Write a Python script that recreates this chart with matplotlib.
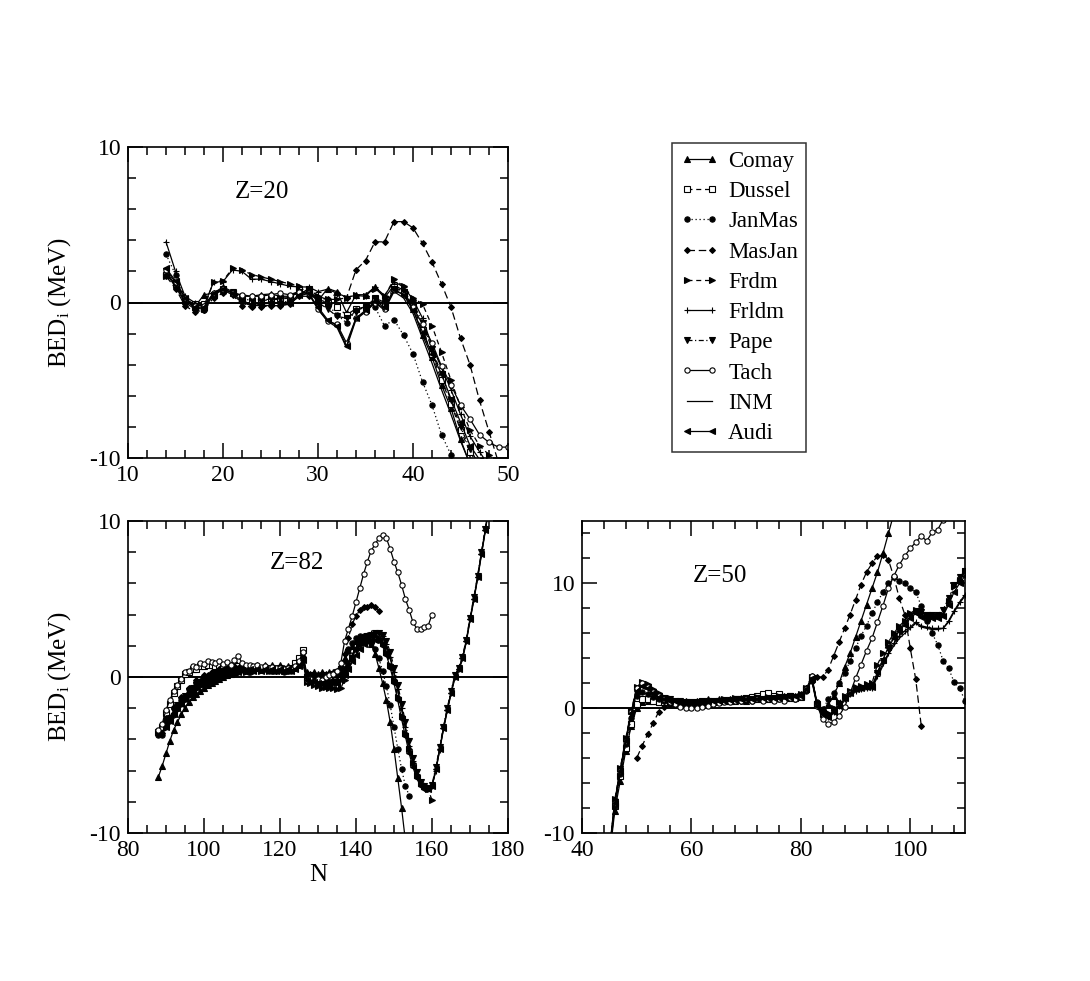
import numpy as np
import matplotlib
matplotlib.use("Agg")
import matplotlib.pyplot as plt
from matplotlib.ticker import MultipleLocator

nan = np.nan

LABELS = ["Comay", "Dussel", "JanMas", "MasJan", "Frdm", "Frldm", "Pape", "Tach", "INM", "Audi"]

# ---------------- Z = 20 (N = 14 ... 50) ----------------
N20 = np.arange(14, 51)
COMAY_20 = [2.0, 1.1, 0.1, -0.3, 0.5, 0.6, 1.0, 0.7, 0.4, 0.4, 0.5, 0.55, 0.4, 0.4, 0.6, 0.8, 0.1, 0.9, 0.7, -0.65,
            0.5, 0.5, 1.0, 0.3, 1.1, 0.8, -0.4, -2.1, -3.5, -5.3, -6.8, -8.8, -10.4]
DUSSEL_20 = [1.8, 1.2, 0.2, -0.1, -0.1, 0.5, 0.9, 0.6, 0.3, 0.1, 0.2, 0.2, 0.3, 0.3, 0.8, 0.9, 0.2, 0.0, -0.3, -0.8,
             -0.4, -0.3, 0.3, 0.0, 1.0, 0.7, -0.2, -1.8, -3.3, -5.0, -6.5, -8.2, -9.6, -10.6]
JANMAS_20 = [3.1, 1.8, 0.3, -0.3, -0.5, 0.5, 0.9, 0.7, 0.2, -0.2, -0.1, 0.0, 0.0, 0.1, 0.5, 0.7, 0.3, -0.1, -0.8, -1.3,
             -0.5, -0.3, -0.3, -1.5, -1.1, -2.1, -3.3, -5.1, -6.6, -8.5, -9.8, -11.0]
MASJAN_20 = [1.7, 0.9, -0.2, -0.6, -0.5, 0.3, 0.6, 0.5, -0.2, -0.3, -0.3, -0.2, -0.2, -0.1, 0.4, 0.4, 0.3, 0.2, 0.6, 0.3,
             2.1, 2.7, 3.9, 3.9, 5.2, 5.2, 4.8, 3.8, 2.6, 1.2, -0.3, -2.3, -4.0, -6.3, -8.3, -10.3]
FRDM_20 = [1.7, 1.3, 0.2, -0.3, -0.4, 1.35, 1.4, 2.2, 2.1, 1.8, 1.65, 1.5, 1.35, 1.2, 1.05, 0.9, 0.4, 0.2, 0.2, 0.3,
           0.5, 0.4, 0.9, 0.4, 1.5, 1.05, 0.3, -0.1, -1.5, -3.2, -5.0, -6.7, -8.2, -9.2, -9.8, -10.5]
FRLDM_20 = [3.9, 2.0, 0.4, 0.0, -0.2, 1.3, 1.35, 2.1, 2.0, 1.5, 1.5, 1.35, 1.2, 1.05, 1.0, 1.0, 0.7, 0.85, 0.6, 0.35,
            0.45, 0.4, 1.0, 0.45, 1.35, 1.0, 0.2, -1.0, -2.8, -4.2, -5.6, -7.2, -8.6, -9.6, -10.5]
PAPE_20 = [2.0, 1.2, 0.1, -0.3, -0.3, 0.5, 0.8, 0.7, 0.3, 0.1, 0.1, 0.2, 0.2, 0.3, 0.7, 0.8, 0.0, -0.4, -0.9, -1.0,
           -0.6, -0.2, 0.2, -0.1, 0.9, 0.7, 0.0, -1.3, -3.0, -4.6, -6.3, -8.0, -9.4, -10.5]
TACH_20 = [2.1, 1.3, 0.3, -0.2, -0.2, 0.6, 0.9, 0.6, 0.5, 0.4, 0.4, 0.5, 0.6, 0.5, 0.7, 0.6, -0.45, -1.2, -1.4, -2.6,
           -1.0, -0.6, 0.0, -0.4, 0.8, 0.5, -0.3, -1.4, -2.6, -4.1, -5.3, -6.6, -7.5, -8.5, -9.0, -9.3, -9.3]
INM_20 = [1.9, 1.0, 0.0, -0.4, -0.4, 0.5, 0.8, 0.5, 0.0, -0.2, -0.2, -0.2, -0.2, -0.1, 0.4, 0.6, -0.4, -1.2, -1.6, -2.9,
          -1.1, -0.6, 0.0, -0.5, 0.7, 0.3, -0.7, -2.3, -3.9, -5.6, -7.2, -8.9, -10.4]
AUDI_20 = [2.2, 1.4, 0.3, -0.3, -0.3, 0.6, 0.9, 0.6, 0.1, -0.1, -0.1, -0.05, 0.0, 0.0, 0.5, 0.6, -0.3, -1.1, -1.5, -2.8,
           -1.0, -0.5, 0.1, -0.3, 0.85, 0.5, -0.5, -1.9, -3.3, -4.6, -6.2, -7.7, -9.2, -10.1]

# ---------------- Z = 82 (N = 88 ... 175) ----------------
N82 = np.arange(88, 176)
COMAY_82 = [-6.4, -5.7, -4.9, -4.1, -3.4, -2.9, -2.4, -2.0, -1.6, -1.3, -1.1, -0.9, -0.7, -0.5, -0.4, -0.25, -0.1, 0.0,
            0.15, 0.2, 0.35, 0.4, 0.6, 0.5, 0.7, 0.6, 0.8, 0.6, 0.8, 0.6, 0.8, 0.6, 0.75, 0.6, 0.7, 0.6, 0.8, 1.0, 1.4,
            0.3, 0.2, 0.3, 0.2, 0.3, 0.2, 0.3, 0.3, 0.4, 0.6, 1.2, 1.7, 2.0, 2.3, 2.4, 2.5, 2.4, 2.1, 1.5, 0.6, -0.4,
            -1.5, -2.9, -4.6, -6.5, -8.4, -10.5]
DUSSEL_82 = [-3.5, -3.2, -2.3, -1.7, -1.0, -0.6, -0.2, 0.2, 0.3, 0.5, 0.5, 0.7, 0.7, 0.8, 0.75, 0.7, 0.75, 0.65, 0.7,
             0.6, 0.75, 0.7, 0.7, 0.6, 0.65, 0.55, 0.6, 0.5, 0.55, 0.45, 0.5, 0.45, 0.5, 0.45, 0.5, 0.6, 0.9, 1.2, 1.7,
             0.0, 0.1, -0.1, 0.0, -0.1, 0.1, 0.0, 0.2, 0.3, 0.5]
JANMAS_82 = [-3.7, -3.7, -2.8, -2.7, -2.0, -2.0, -1.45, -1.4, -0.8, -0.75, -0.35, -0.3, 0.0, 0.05, 0.2, 0.3, 0.4, 0.4,
             0.5, 0.45, 0.6, 0.5, 0.6, 0.5, 0.6, 0.5, 0.55, 0.45, 0.5, 0.4, 0.5, 0.4, 0.45, 0.35, 0.45, 0.4, 0.6, 0.8,
             1.2, 0.1, 0.0, 0.1, 0.0, 0.1, 0.0, 0.1, 0.1, 0.2, 0.4, 1.0, 1.8, 2.2, 2.5, 2.6, 2.6, 2.5, 2.2, 1.8, 1.2,
             0.4, -0.6, -1.8, -3.2, -4.6, -5.9, -7.0, -7.6]
MASJAN_82 = [-3.5, -3.6, -2.6, -2.7, -1.9, -1.9, -1.3, -1.35, -0.7, -0.7, -0.2, -0.25, 0.1, 0.1, 0.3, 0.3, 0.5, 0.45,
             0.6, 0.5, 0.7, 0.6, 0.7, 0.6, 0.65, 0.55, 0.6, 0.5, 0.55, 0.45, 0.5, 0.4, 0.5, 0.4, 0.5, 0.45, 0.6, 0.9,
             1.3, 0.2, 0.1, 0.2, 0.1, 0.2, 0.1, 0.2, 0.2, 0.3, 0.6, 1.5, 2.5, 3.4, 3.9, 4.3, 4.5, 4.5, 4.6, 4.5, 4.2]
FRDM_82 = [nan, nan, -3.3, -2.9, -2.5, -2.1, -1.8, -1.5, -1.2, -1.0, -0.8, -0.6, -0.45, -0.3, -0.2, -0.1, 0.0, 0.1,
           0.2, 0.15, 0.3, 0.25, 0.4, 0.3, 0.45, 0.35, 0.5, 0.4, 0.5, 0.4, 0.5, 0.4, 0.5, 0.4, 0.45, 0.4, 0.5, 0.7, 1.0,
           -0.3, -0.4, -0.5, -0.6, -0.7, -0.65, -0.7, -0.7, -0.75, -0.7, -0.2, 0.6, 1.3, 1.8, 2.1, 2.3, 2.5, 2.6, 2.6,
           2.5, 2.2, 1.6, 0.8, -0.2, -1.3, -2.5, -3.6, -4.6, -5.5, -6.3, -6.8, -7.0, -7.2, -7.9]
FRLDM_82 = [nan, nan, -3.1, -2.7, -2.3, -1.9, -1.6, -1.3, -1.0, -0.8, -0.6, -0.4, -0.3, -0.15, -0.05, 0.05, 0.15, 0.2,
            0.3, 0.25, 0.4, 0.35, 0.5, 0.4, 0.55, 0.45, 0.6, 0.45, 0.6, 0.5, 0.6, 0.5, 0.55, 0.45, 0.55, 0.5, 0.6, 0.8,
            1.2, 0.0, -0.1, -0.2, -0.2, -0.3, -0.2, -0.3, -0.2, -0.1, 0.2, 0.4, 0.9, 1.4, 1.9, 2.3, 2.6, 2.7, 2.8, 2.8,
            2.8, 2.6, 2.1, 1.3, 0.3, -0.8, -2.0, -3.2, -4.4, -5.4, -6.2, -6.8, -7.1, -7.2, -7.0, -6.0, -4.7, -3.3,
            -2.1, -1.0, 0.0, 0.5, 1.2, 2.3, 3.7, 5.0, 6.4, 7.9, 9.4, 11.0]
PAPE_82 = [nan, nan, -3.0, -2.6, -2.2, -1.8, -1.5, -1.2, -0.9, -0.7, -0.5, -0.35, -0.2, -0.1, 0.0, 0.1, 0.2, 0.25,
           0.35, 0.3, 0.45, 0.4, 0.55, 0.45, 0.6, 0.5, 0.6, 0.5, 0.6, 0.5, 0.55, 0.45, 0.55, 0.45, 0.5, 0.45, 0.55,
           0.75, 1.1, -0.1, -0.2, -0.3, -0.3, -0.4, -0.3, -0.4, -0.3, -0.3, 0.0, 0.2, 0.7, 1.2, 1.7, 2.1, 2.4, 2.6,
           2.7, 2.8, 2.8, 2.7, 2.3, 1.6, 0.6, -0.5, -1.7, -2.9, -4.1, -5.2, -6.1, -6.7, -7.0, -7.1, -6.9, -5.8, -4.5,
           -3.2, -2.0, -0.9, 0.1, 0.6, 1.3, 2.4, 3.8, 5.1, 6.5, 8.0, 9.5, 11.1]
TACH_82 = [-3.4, -3.0, -2.1, -1.5, -0.9, -0.5, -0.1, 0.35, 0.4, 0.7, 0.65, 0.9, 0.85, 1.0, 0.95, 0.9, 1.0, 0.85, 0.95,
           0.8, 1.1, 1.35, 0.9, 0.8, 0.75, 0.7, 0.8, 0.65, 0.7, 0.6, 0.65, 0.55, 0.6, 0.5, 0.55, 0.5, 0.7, 1.0, 1.6,
           -0.2, -0.1, -0.3, -0.1, -0.2, 0.0, 0.1, 0.2, 0.4, 0.9, 2.3, 3.1, 3.9, 4.8, 5.7, 6.6, 7.4, 8.1, 8.5, 8.9,
           9.1, 8.9, 8.2, 7.4, 6.7, 5.9, 5.0, 4.3, 3.5, 3.1, 3.1, 3.2, 3.3, 4.0]
INM_82 = [nan, nan, -3.0, -2.6, -2.2, -1.9, -1.6, -1.3, -1.0, -0.8, -0.6, -0.4, -0.3, -0.2, -0.1, 0.0, 0.1, 0.2, 0.25,
          0.3, 0.35, 0.4, 0.45, 0.45, 0.5, 0.5, 0.5, 0.5, 0.5, 0.5, 0.5, 0.45, 0.45, 0.45, 0.45, 0.45, 0.5, 0.7, 1.0,
          -0.1, -0.2, -0.2, -0.3, -0.3, -0.3, -0.3, -0.3, -0.2, 0.1, 0.3, 0.8, 1.3, 1.8, 2.2, 2.5, 2.6, 2.7, 2.7, 2.7,
          2.5, 2.0, 1.2, 0.2, -0.9, -2.1, -3.3, -4.5, -5.5, -6.3, -6.9, -7.2, -7.2, -7.0, -6.0, -4.7, -3.4, -2.2,
          -1.1, -0.1, 0.4, 1.1, 2.2, 3.6, 4.9, 6.3, 7.8, 9.3, 10.9]
AUDI_82 = [nan, nan, -3.2, -2.8, -2.4, -2.0, -1.7, -1.4, -1.1, -0.85, -0.65, -0.45, -0.3, -0.2, -0.1, 0.0, 0.1, 0.15,
           0.25, 0.2, 0.35, 0.3, 0.45, 0.35, 0.5, 0.4, 0.5, 0.4, 0.5, 0.4, 0.5, 0.4, 0.5, 0.4, 0.5, 0.4, 0.5, 0.7, 1.1,
           -0.2, -0.3, -0.3, -0.4, -0.4, -0.4, -0.5, -0.4, -0.4, -0.2, 0.1, 0.5, 1.0, 1.4, 1.8, 2.1, 2.3, 2.4, 2.4,
           2.3, 2.0, 1.4, 0.6, -0.4, -1.5, -2.7, -3.8, -4.9, -5.8, -6.5, -7.0, -7.2, -7.2, -7.0, -5.9, -4.6, -3.3,
           -2.1, -1.0, 0.0, 0.5, 1.2, 2.3, 3.7, 5.0, 6.4, 7.9, 9.4, 11.0]

# ---------------- Z = 50 (N = 45 ... 110) ----------------
N50 = np.arange(45, 111)
COMAY_50 = [-12.0, -8.2, -5.8, -3.4, -1.4, 0.0, 0.5, 0.6, 0.6, 0.5, 0.6, 0.5, 0.6, 0.5, 0.6, 0.5, 0.6, 0.5, 0.7, 0.5,
            0.7, 0.6, 0.7, 0.6, 0.8, 0.6, 0.8, 0.7, 0.9, 0.7, 0.9, 0.8, 1.0, 0.8, 1.0, 1.1, 1.6, 2.3, 0.4, -0.3, 0.3,
            1.0, 2.0, 3.3, 4.4, 5.7, 7.0, 8.3, 9.6, 10.9, 12.4, 14.0, 15.6]
DUSSEL_50 = [-11.8, -7.8, -5.4, -3.2, -1.3, 0.3, 0.7, 0.7, 0.6, 0.5, 0.5, 0.4, 0.4, 0.4, 0.4, 0.4, 0.45, 0.5, 0.5, 0.5,
             0.55, 0.6, 0.6, 0.7, 0.7, 0.8, 0.9, 1.0, 1.1, 1.2, 1.0, 1.1, 0.9, 1.0, 0.8, 0.9, 1.5, 2.4, 0.3, -0.5]
JANMAS_50 = [-11.8, -7.8, -5.3, -2.9, -0.8, 1.0, 1.3, 1.1, 0.9, 0.7, 0.6, 0.5, 0.45, 0.4, 0.4, 0.4, 0.45, 0.45, 0.5,
             0.5, 0.5, 0.55, 0.55, 0.6, 0.6, 0.65, 0.6, 0.7, 0.65, 0.7, 0.65, 0.75, 0.7, 0.8, 0.75, 0.9, 1.4, 2.2, 0.5,
             -0.1, 0.7, 1.2, 2.0, 2.8, 3.8, 4.8, 5.8, 6.6, 7.6, 8.5, 9.3, 10.0, 10.5, 10.2, 10.0, 9.6, 9.3, 8.2, 7.0,
             6.0, 5.1, 3.8, 3.2, 2.1, 1.6, 0.6]
MASJAN_50 = [nan, nan, nan, nan, nan, -4.0, -3.0, -2.1, -1.2, -0.3, 0.1, 0.3, 0.35, 0.4, 0.4, 0.45, 0.4, 0.5, 0.45,
             0.55, 0.5, 0.6, 0.55, 0.65, 0.6, 0.7, 0.65, 0.75, 0.7, 0.8, 0.75, 0.85, 0.8, 0.9, 0.85, 1.0, 1.6, 2.6,
             2.5, 2.5, 3.1, 4.2, 5.3, 6.4, 7.5, 8.7, 9.9, 10.9, 11.6, 12.2, 12.3, 11.9, 10.5, 8.8, 7.5, 4.8, 2.3, -1.4]
FRDM_50 = [-11.4, -7.3, -4.8, -2.4, -0.2, 1.7, 2.1, 1.9, 1.5, 1.2, 0.9, 0.8, 0.6, 0.6, 0.5, 0.5, 0.5, 0.6, 0.5, 0.6,
           0.6, 0.7, 0.6, 0.8, 0.7, 0.8, 0.7, 0.9, 0.7, 0.9, 0.8, 1.0, 0.8, 1.0, 0.9, 1.1, 1.6, 2.5, 0.3, -0.2, -0.4,
           0.0, 0.5, 1.0, 1.4, 1.7, 1.8, 1.9, 2.0, 3.5, 4.4, 5.3, 6.0, 6.6, 7.0, 7.6, 7.9, 7.6, 7.5, 7.4, 7.4, 7.5,
           8.6, 9.8, 10.3, 11.0]
FRLDM_50 = [-11.5, -7.4, -4.9, -2.5, -0.3, 1.5, 1.9, 1.6, 1.3, 1.0, 0.8, 0.7, 0.6, 0.5, 0.5, 0.5, 0.5, 0.5, 0.55, 0.55,
            0.6, 0.6, 0.65, 0.65, 0.7, 0.7, 0.7, 0.75, 0.75, 0.8, 0.8, 0.85, 0.85, 0.9, 0.9, 1.0, 1.5, 2.3, 0.2, -0.5,
            -0.7, -0.3, 0.2, 0.7, 1.1, 1.4, 1.5, 1.6, 1.6, 2.6, 3.6, 4.4, 5.2, 5.8, 6.2, 6.5, 6.9, 6.6, 6.5, 6.4, 6.4,
            6.4, 7.0, 7.8, 8.5, 9.1]
PAPE_50 = [-11.6, -7.5, -4.9, -2.5, -0.4, 1.4, 1.9, 1.7, 1.3, 1.0, 0.8, 0.7, 0.6, 0.55, 0.5, 0.5, 0.5, 0.55, 0.55, 0.6,
           0.6, 0.65, 0.65, 0.7, 0.7, 0.75, 0.7, 0.8, 0.75, 0.85, 0.8, 0.9, 0.85, 0.95, 0.9, 1.0, 1.5, 2.4, 0.2, -0.4,
           -0.6, -0.2, 0.3, 0.8, 1.2, 1.5, 1.6, 1.7, 1.7, 2.8, 3.8, 4.8, 5.8, 6.3, 6.8, 7.4, 7.8, 7.7, 7.5, 7.5, 7.5,
           7.9, 8.8, 9.9, 10.5, 11.0]
TACH_50 = [-11.5, -7.6, -5.0, -2.6, -0.3, 1.6, 2.0, 1.7, 1.3, 1.0, 0.7, 0.5, 0.3, 0.1, 0.0, 0.0, 0.05, 0.1, 0.2, 0.3,
           0.4, 0.5, 0.5, 0.6, 0.6, 0.7, 0.6, 0.7, 0.6, 0.7, 0.6, 0.7, 0.6, 0.8, 0.7, 0.9, 1.5, 2.6, 0.2, -0.9, -1.3,
           -1.1, -0.6, 0.1, 1.2, 2.4, 3.5, 4.6, 5.6, 6.9, 8.2, 9.6, 10.6, 11.5, 12.2, 12.8, 13.3, 13.8, 13.4, 14.1,
           14.3, 15.1]
INM_50 = [-11.7, -7.7, -5.1, -2.7, -0.5, 1.3, 1.8, 1.5, 1.2, 0.9, 0.7, 0.6, 0.5, 0.45, 0.4, 0.4, 0.4, 0.45, 0.45, 0.5,
          0.5, 0.55, 0.55, 0.6, 0.6, 0.65, 0.65, 0.7, 0.7, 0.75, 0.75, 0.8, 0.8, 0.85, 0.85, 0.95, 1.4, 2.2, 0.1, -0.6,
          -0.8, -0.4, 0.1, 0.6, 1.0, 1.3, 1.4, 1.5, 1.6, 2.5, 3.4, 4.3, 5.0, 5.6, 6.0, 6.4, 6.8, 6.5, 6.4, 6.3, 6.3,
          6.4, 6.9, 7.7, 8.4, 9.0]
AUDI_50 = [-11.6, -7.6, -5.0, -2.6, -0.4, 1.4, 1.8, 1.6, 1.2, 0.9, 0.7, 0.6, 0.55, 0.5, 0.5, 0.5, 0.5, 0.5, 0.55, 0.55,
           0.6, 0.6, 0.65, 0.65, 0.7, 0.7, 0.75, 0.75, 0.8, 0.8, 0.85, 0.85, 0.9, 0.9, 0.95, 1.0, 1.5, 2.4, 0.2, -0.4,
           -0.7, -0.3, 0.2, 0.8, 1.2, 1.5, 1.6, 1.7, 1.7, 2.9, 3.9, 4.9, 5.6, 6.2, 6.7, 7.2, 7.6, 7.3, 7.2, 7.2, 7.2,
           7.4, 8.3, 9.3, 10.0, 10.6]

SERIES_20 = [COMAY_20, DUSSEL_20, JANMAS_20, MASJAN_20, FRDM_20, FRLDM_20, PAPE_20, TACH_20, INM_20, AUDI_20]
SERIES_82 = [COMAY_82, DUSSEL_82, JANMAS_82, MASJAN_82, FRDM_82, FRLDM_82, PAPE_82, TACH_82, INM_82, AUDI_82]
SERIES_50 = [COMAY_50, DUSSEL_50, JANMAS_50, MASJAN_50, FRDM_50, FRLDM_50, PAPE_50, TACH_50, INM_50, AUDI_50]

# ---------------- styles ----------------
STYLES = [
    dict(marker="^", ls="-", mfc="black"),
    dict(marker="s", ls=(0, (4, 3)), mfc="white"),
    dict(marker="o", ls=(0, (1, 2.2)), mfc="black"),
    dict(marker="D", ls=(0, (6, 3)), mfc="black", ms=3.0),
    dict(marker=">", ls=(0, (4, 3)), mfc="black"),
    dict(marker="+", ls="-", mfc="black", ms=5),
    dict(marker="v", ls=(0, (4, 2, 1, 2)), mfc="black"),
    dict(marker="o", ls="-", mfc="white"),
    dict(marker="None", ls="-", mfc="black"),
    dict(marker="<", ls="-", mfc="black"),
]

plt.rcParams["font.family"] = ["Liberation Serif", "DejaVu Serif"]
plt.rcParams["mathtext.fontset"] = "custom"
plt.rcParams["mathtext.rm"] = "Liberation Serif"
plt.rcParams["mathtext.it"] = "Liberation Serif:italic"
plt.rcParams["axes.unicode_minus"] = False
plt.rcParams["font.size"] = 17

W, H = 1090, 981
fig = plt.figure(figsize=(W / 100, H / 100), dpi=100)


def frac(l, t, r, b):
    return [l / W, 1 - b / H, (r - l) / W, (b - t) / H]


ax20 = fig.add_axes(frac(128, 147, 508, 458))
ax82 = fig.add_axes(frac(128, 521, 508, 833))
ax50 = fig.add_axes(frac(582, 521, 965, 833))


def draw(ax, N, series):
    handles = []
    for vals, st, lab in zip(series, STYLES, LABELS):
        st = dict(st)
        ms = st.pop("ms", 3.8)
        (h,) = ax.plot(N[:len(vals)], vals, color="black", lw=0.9, ms=ms, mec="black", mew=0.8,
                       label=lab, clip_on=True, **st)
        handles.append(h)
    ax.axhline(0, color="black", lw=1.4, zorder=0)
    return handles


def style_axes(ax, xlim, ylim, xmaj, xmin, ymaj, ymin):
    ax.set_xlim(*xlim)
    ax.set_ylim(*ylim)
    ax.xaxis.set_major_locator(MultipleLocator(xmaj))
    ax.xaxis.set_minor_locator(MultipleLocator(xmin))
    ax.yaxis.set_major_locator(MultipleLocator(ymaj))
    ax.yaxis.set_minor_locator(MultipleLocator(ymin))
    ax.tick_params(which="both", direction="in", top=True, right=True, width=1.1, labelsize=17, pad=5)
    ax.tick_params(which="major", length=11)
    ax.tick_params(which="minor", length=5.5)
    for s in ax.spines.values():
        s.set_linewidth(1.2)


handles = draw(ax20, N20, SERIES_20)
draw(ax82, N82, SERIES_82)
draw(ax50, N50, SERIES_50)

style_axes(ax20, (10, 50), (-10, 10), 10, 2, 10, 2)
style_axes(ax82, (80, 180), (-10, 10), 20, 5, 10, 2)
style_axes(ax50, (40, 110), (-10, 15), 20, 4, 10, 2)
ax50.set_xticks([40, 60, 80, 100])

ax20.text(24.1, 7.1, "Z=20", ha="center", va="center", fontsize=18)
ax82.text(124.5, 7.3, "Z=82", ha="center", va="center", fontsize=18)
ax50.text(65.2, 10.6, "Z=50", ha="center", va="center", fontsize=18)

ax20.set_ylabel(r"BED$_\mathrm{i}$ (MeV)", fontsize=18, labelpad=12)
ax82.set_ylabel(r"BED$_\mathrm{i}$ (MeV)", fontsize=18, labelpad=12)
ax82.set_xlabel("N", fontsize=18, labelpad=2)

leg = fig.legend(handles=handles, loc="upper left", bbox_to_anchor=(672 / W, 1 - 143 / H),
                 frameon=True, fancybox=False, edgecolor="black", fontsize=16.5, numpoints=2,
                 handlelength=1.7, handletextpad=0.4, labelspacing=0.40, borderpad=0.35,
                 borderaxespad=0.0)
leg.get_frame().set_linewidth(1.1)

fig.savefig("out.png", dpi=100)
